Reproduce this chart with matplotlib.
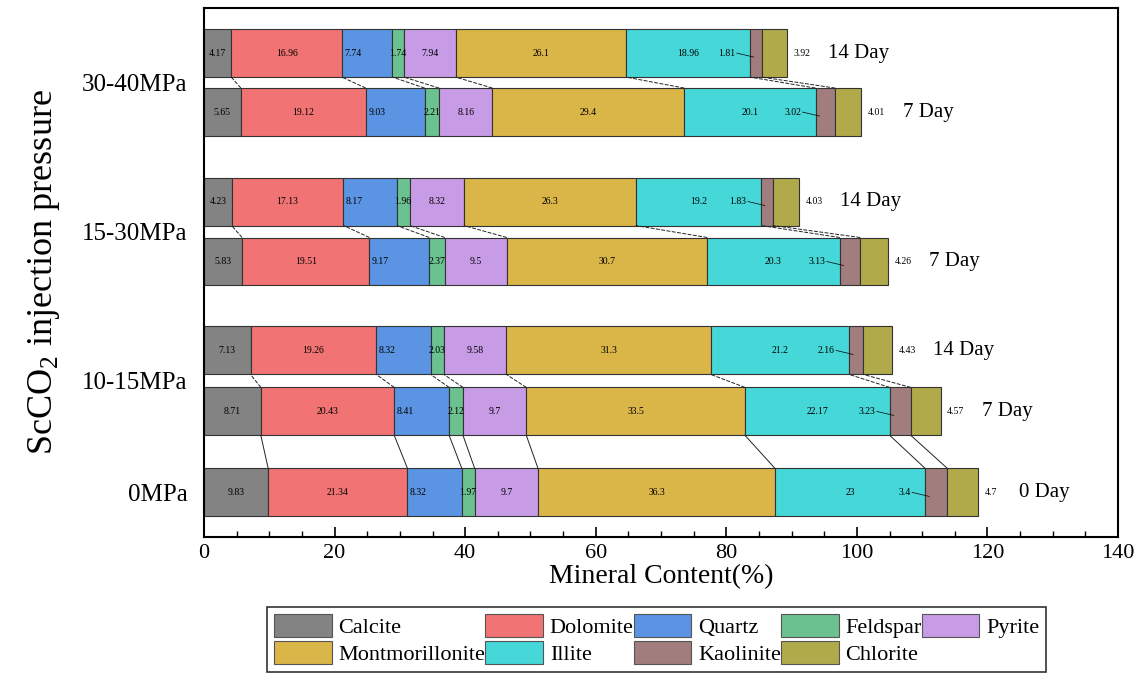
import numpy as np
import matplotlib.pyplot as plt
from matplotlib.patches import Patch
from matplotlib.ticker import MultipleLocator

plt.rcParams['font.family'] = ['Liberation Serif', 'DejaVu Serif']
plt.rcParams['mathtext.fontset'] = 'custom'
plt.rcParams['mathtext.rm'] = 'Liberation Serif'

# bars from bottom to top
days = ['0 Day', '7 Day', '14 Day', '7 Day', '14 Day', '7 Day', '14 Day']
pressures = ['0MPa', '10-15MPa', '15-30MPa', '30-40MPa']

minerals = ['Calcite', 'Dolomite', 'Quartz', 'Feldspar', 'Pyrite',
            'Montmorillonite', 'Illite', 'Kaolinite', 'Chlorite']
calcite = [9.83, 8.71, 7.13, 5.83, 4.23, 5.65, 4.17]
dolomite = [21.34, 20.43, 19.26, 19.51, 17.13, 19.12, 16.96]
quartz = [8.32, 8.41, 8.32, 9.17, 8.17, 9.03, 7.74]
feldspar = [1.97, 2.12, 2.03, 2.37, 1.96, 2.21, 1.74]
pyrite = [9.7, 9.7, 9.58, 9.5, 8.32, 8.16, 7.94]
montmorillonite = [36.3, 33.5, 31.3, 30.7, 26.3, 29.4, 26.1]
illite = [23, 22.17, 21.2, 20.3, 19.2, 20.1, 18.96]
kaolinite = [3.4, 3.23, 2.16, 3.13, 1.83, 3.02, 1.81]
chlorite = [4.7, 4.57, 4.43, 4.26, 4.03, 4.01, 3.92]

colors = ['#838383', '#F17373', '#5A94E2', '#6BC190', '#C89BE6',
          '#DAB548', '#46D7D8', '#A17D7D', '#B1AA4B']

data = np.array([calcite, dolomite, quartz, feldspar, pyrite,
                 montmorillonite, illite, kaolinite, chlorite])

# layout of bar rows
ypos = np.array([0, 0.81, 1.42, 2.31, 2.91, 3.805, 4.395])
ticks_y = [0, (ypos[1] + ypos[2]) / 2, (ypos[3] + ypos[4]) / 2, (ypos[5] + ypos[6]) / 2]
h = 0.48

fig = plt.figure(figsize=(11.46, 6.77), dpi=100)
ax = fig.add_axes([0.178, 0.207, 0.7976, 0.781])

left = np.zeros(len(ypos))
for i, name in enumerate(minerals):
    ax.barh(ypos, data[i], height=h, left=left, color=colors[i],
            edgecolor='#333333', linewidth=0.8)
    for j in range(len(ypos)):
        v = data[i, j]
        s = f'{v:g}'
        if name == 'Quartz':
            ax.text(left[j] + 0.4, ypos[j], s, ha='left', va='center', fontsize=7)
        elif name == 'Kaolinite':
            xt = left[j] - 2.2
            ax.text(xt, ypos[j], s, ha='right', va='center', fontsize=7)
            ax.plot([xt + 0.2, left[j] + 0.6], [ypos[j], ypos[j] - 0.04],
                    color='black', lw=0.5)
        elif name == 'Chlorite':
            ax.text(left[j] + v + 1.0, ypos[j], s, ha='left', va='center', fontsize=7)
        else:
            ax.text(left[j] + v / 2, ypos[j], s, ha='center', va='center', fontsize=7)
    left = left + data[i]

cum = np.cumsum(data, axis=0)
for lo, hi, ls in [(0, 1, '-'), (1, 2, (0, (4, 1.5))), (3, 4, (0, (4, 1.5))), (5, 6, (0, (4, 1.5)))]:
    for k in range(len(minerals) - 1):
        ax.plot([cum[k, lo], cum[k, hi]], [ypos[lo] + h / 2, ypos[hi] - h / 2],
                color='#222222', lw=0.7, linestyle=ls)

for j in range(len(ypos)):
    ax.text(left[j] + 6.3, ypos[j], days[j], ha='left', va='center', fontsize=15)

ax.set_xlim(0, 140)
ax.set_ylim(-0.445, 4.845)
ax.set_yticks(ticks_y)
ax.set_yticklabels(pressures, fontsize=18)
ax.tick_params(axis='y', length=0, pad=12)
ax.xaxis.set_major_locator(MultipleLocator(20))
ax.xaxis.set_minor_locator(MultipleLocator(5))
ax.tick_params(axis='x', which='major', direction='in', length=7, width=1.2, labelsize=16, pad=5)
ax.tick_params(axis='x', which='minor', direction='in', length=4, width=1)
for sp in ax.spines.values():
    sp.set_linewidth(1.5)

ax.set_xlabel('Mineral Content(%)', fontsize=20, labelpad=1)
ax.set_ylabel('ScCO$_\\mathregular{2}$ injection pressure', fontsize=26, labelpad=14)

order = [0, 5, 1, 6, 2, 7, 3, 8, 4]
handles = [Patch(facecolor=colors[i], edgecolor='#555555', linewidth=0.8) for i in order]
labels = [minerals[i] for i in order]
leg = fig.legend(handles, labels, ncol=5, loc='lower center', bbox_to_anchor=(0.573, 0.008),
                 fontsize=16, frameon=True, fancybox=False, edgecolor='black',
                 handlelength=2.6, handleheight=1.2, handletextpad=0.3, columnspacing=0.0,
                 labelspacing=0.15, borderpad=0.3, borderaxespad=0)
leg.get_frame().set_linewidth(1.2)

fig.savefig('out.png', dpi=100)
